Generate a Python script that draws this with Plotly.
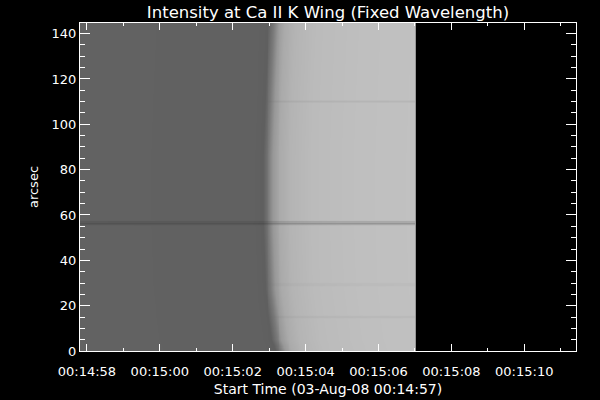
import numpy as np
import plotly.graph_objects as go

# ---- axis definitions (seconds after 00:14:57) ----
tick_seconds = [1, 3, 5, 7, 9, 11, 13]
tick_labels = ["00:14:58", "00:15:00", "00:15:02", "00:15:04",
               "00:15:06", "00:15:08", "00:15:10"]
x_range = [0.81, 14.42]
y_range = [0.0, 144.7]

# ---- image extent ----
image_t_start = 0.81
image_t_end = 10.03
image_arcsec_top = 144.7

# ---- limb position (time, s) at several heights (arcsec) ----
limb_arcsec = [0, 5, 27, 57, 86, 115, 142, 145]
limb_time = [6.33, 6.22, 6.05, 5.99, 5.99, 6.05, 6.12, 6.14]

# ---- intensity profile across the limb (distance from limb in s -> grey level) ----
profile_dist = [-6.0, -0.45, -0.15, 0.0, 0.12, 0.3, 0.6, 1.2, 2.5, 4.2]
profile_level = [98, 97, 95, 122, 152, 170, 180, 187, 191, 193]

# ---- dark horizontal lines (arcsec) and their depths ----
line_arcsec = [14.9, 29.3, 56.4, 110.1]
line_depth_bright = [9, 6, 45, 11]
line_depth_dark = [0, 0, 16, 0]
line_halfwidth = [0.9, 0.9, 1.1, 0.9]

edge_column_level = 150

# ---- build the image ----
x_edges = np.linspace(image_t_start, image_t_end, 370)
y_edges = np.linspace(0.0, image_arcsec_top, 292)
xc = 0.5 * (x_edges[:-1] + x_edges[1:])
yc = 0.5 * (y_edges[:-1] + y_edges[1:])

limb_at_row = np.interp(yc, limb_arcsec, limb_time)
dist = xc[None, :] - limb_at_row[:, None]
z = np.interp(dist, profile_dist, profile_level)
frac = (z - profile_level[0]) / (profile_level[-1] - profile_level[0])
for ly, db, dd, hw in zip(line_arcsec, line_depth_bright, line_depth_dark, line_halfwidth):
    w = np.clip(1 - np.abs(yc - ly) / hw, 0, 1)[:, None]
    z = z - w * (dd + (db - dd) * np.clip(frac, 0, 1))
z[:, -1] = edge_column_level

fig = go.Figure(go.Heatmap(
    x=x_edges, y=y_edges, z=z,
    colorscale=[[0, "black"], [1, "white"]],
    zmin=0, zmax=255, showscale=False, hoverinfo="skip",
))

font = "DejaVu Sans"
axis_common = dict(
    showgrid=False, zeroline=False, showline=True, linecolor="white",
    linewidth=1, mirror="ticks", ticks="inside", tickcolor="white",
    tickwidth=1, tickfont=dict(family=font, size=13, color="white"),
    automargin=False,
)

fig.update_layout(
    width=600, height=400,
    margin=dict(l=80, r=24, t=23, b=49),
    paper_bgcolor="black", plot_bgcolor="black",
    title=dict(text="Intensity at Ca II K Wing (Fixed Wavelength)",
               x=0.5, xref="paper", y=1 - 12.5 / 400, yref="container",
               yanchor="middle", xanchor="center",
               font=dict(family=font, size=16.5, color="white")),
    xaxis=dict(range=x_range, tickmode="array", tickvals=tick_seconds,
               ticktext=tick_labels, ticklen=7, ticklabelstandoff=8,
               minor=dict(tickmode="linear", tick0=0, dtick=1, ticks="inside",
                          ticklen=3, tickcolor="white", tickwidth=1),
               title=dict(text="Start Time (03-Aug-08 00:14:57)", standoff=6,
                          font=dict(family=font, size=14, color="white")),
               **axis_common),
    yaxis=dict(range=y_range, tickmode="linear", tick0=0, dtick=20, ticklen=10,
               ticklabelstandoff=0,
               minor=dict(tickmode="linear", tick0=0, dtick=5, ticks="inside",
                          ticklen=5, tickcolor="white", tickwidth=1),
               title=dict(text="arcsec", standoff=10,
                          font=dict(family=font, size=13, color="white")),
               **axis_common),
)

fig.write_html("out.html", config={"displayModeBar": False},
               post_script="document.body.style.margin='0';document.body.style.background='black';")
